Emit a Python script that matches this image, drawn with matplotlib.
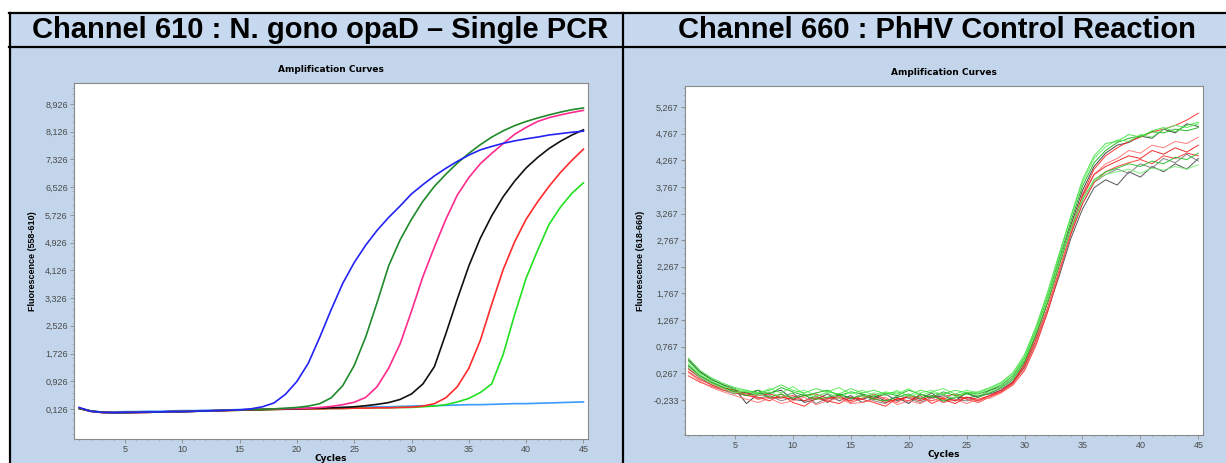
import numpy as np
import matplotlib
matplotlib.use("Agg")
import matplotlib.pyplot as plt
from matplotlib.patches import Rectangle
from matplotlib.lines import Line2D
from matplotlib.ticker import FixedLocator, MultipleLocator

plt.rcParams['font.family'] = ['Liberation Sans', 'DejaVu Sans']

W, H = 1226, 463
cycles = list(range(1, 46))

# ---- Channel 610 curves ----
ch610 = {
    'blue': [0.17, 0.06, 0.03, 0.02, 0.03, 0.03, 0.04, 0.04, 0.05, 0.05, 0.06, 0.07, 0.08, 0.09, 0.10,
             0.13, 0.19, 0.30, 0.55, 0.92, 1.45, 2.20, 3.00, 3.75, 4.35, 4.85, 5.28, 5.65, 5.98, 6.33,
             6.60, 6.85, 7.07, 7.27, 7.45, 7.60, 7.70, 7.79, 7.86, 7.92, 7.97, 8.03, 8.07, 8.11, 8.14],
    'darkgreen': [0.15, 0.07, 0.03, 0.02, 0.02, 0.03, 0.04, 0.04, 0.05, 0.05, 0.06, 0.07, 0.08, 0.09, 0.10,
                  0.11, 0.12, 0.13, 0.15, 0.17, 0.21, 0.28, 0.45, 0.80, 1.38, 2.20, 3.20, 4.25, 5.00, 5.60,
                  6.12, 6.55, 6.90, 7.22, 7.50, 7.75, 7.97, 8.15, 8.30, 8.42, 8.52, 8.61, 8.69, 8.76, 8.81],
    'pink': [0.15, 0.07, 0.03, 0.02, 0.02, 0.03, 0.03, 0.04, 0.05, 0.05, 0.06, 0.07, 0.08, 0.09, 0.10,
             0.11, 0.12, 0.12, 0.13, 0.14, 0.15, 0.17, 0.20, 0.25, 0.32, 0.46, 0.77, 1.30, 2.00, 2.95,
             3.95, 4.80, 5.60, 6.30, 6.80, 7.20, 7.50, 7.78, 8.05, 8.25, 8.42, 8.53, 8.61, 8.68, 8.74],
    'black': [0.14, 0.06, 0.03, 0.02, 0.02, 0.03, 0.03, 0.04, 0.05, 0.05, 0.06, 0.07, 0.08, 0.09, 0.10,
              0.10, 0.11, 0.12, 0.12, 0.13, 0.14, 0.15, 0.16, 0.17, 0.19, 0.22, 0.26, 0.31, 0.40, 0.56,
              0.85, 1.35, 2.30, 3.30, 4.25, 5.05, 5.70, 6.25, 6.70, 7.08, 7.38, 7.64, 7.85, 8.03, 8.18],
    'red': [0.14, 0.06, 0.02, 0.02, 0.02, 0.02, 0.03, 0.04, 0.04, 0.05, 0.06, 0.07, 0.07, 0.08, 0.09,
            0.10, 0.11, 0.11, 0.12, 0.12, 0.13, 0.13, 0.14, 0.14, 0.15, 0.15, 0.16, 0.16, 0.17, 0.18,
            0.21, 0.28, 0.45, 0.77, 1.30, 2.10, 3.15, 4.15, 4.95, 5.60, 6.10, 6.55, 6.95, 7.30, 7.62],
    'lime': [0.15, 0.07, 0.03, 0.02, 0.02, 0.03, 0.03, 0.04, 0.04, 0.05, 0.06, 0.06, 0.07, 0.08, 0.09,
             0.10, 0.10, 0.11, 0.12, 0.12, 0.13, 0.13, 0.14, 0.14, 0.15, 0.15, 0.16, 0.16, 0.17, 0.17,
             0.19, 0.21, 0.25, 0.33, 0.43, 0.60, 0.85, 1.70, 2.85, 3.90, 4.70, 5.45, 5.95, 6.35, 6.65],
    'skyblue': [0.14, 0.07, 0.04, 0.04, 0.05, 0.05, 0.06, 0.06, 0.07, 0.08, 0.08, 0.09, 0.09, 0.10, 0.11,
                0.11, 0.12, 0.13, 0.13, 0.14, 0.15, 0.15, 0.16, 0.17, 0.17, 0.18, 0.19, 0.19, 0.20, 0.21,
                0.22, 0.22, 0.23, 0.24, 0.25, 0.25, 0.26, 0.27, 0.28, 0.28, 0.29, 0.30, 0.31, 0.32, 0.33],
}
ch610_colors = {'blue': '#2323f5', 'darkgreen': '#1f8a2a', 'pink': '#ff2a8e', 'black': '#111111',
                'red': '#ff2b2b', 'lime': '#22e022', 'skyblue': '#3a9cff'}
ch610_order = ['skyblue', 'lime', 'red', 'black', 'pink', 'darkgreen', 'blue']
ch610_yticks = [0.126, 0.926, 1.726, 2.526, 3.326, 4.126, 4.926, 5.726, 6.526, 7.326, 8.126, 8.926]

# ---- Channel 660 curves (PhHV control) ----
ch660 = [
    ('#333333', [0.52, 0.30, 0.15, 0.05, -0.02, -0.30, -0.12, -0.10, -0.05, -0.22, -0.25, -0.15, -0.28, -0.12, -0.20,
                 -0.22, -0.15, -0.25, -0.18, -0.30, -0.12, -0.20, -0.15, -0.25, -0.10, -0.18, -0.05, 0.02, 0.18, 0.50,
                 1.00, 1.62, 2.35, 3.05, 3.70, 4.15, 4.40, 4.55, 4.60, 4.72, 4.68, 4.85, 4.78, 4.95, 4.90]),
    ('#444444', [0.40, 0.22, 0.10, 0.00, -0.08, -0.15, -0.05, -0.20, -0.18, -0.10, -0.28, -0.22, -0.12, -0.25, -0.15,
                 -0.28, -0.20, -0.12, -0.25, -0.15, -0.22, -0.10, -0.28, -0.18, -0.20, -0.15, -0.12, -0.05, 0.10, 0.38,
                 0.85, 1.45, 2.10, 2.80, 3.35, 3.75, 3.90, 3.80, 4.05, 3.95, 4.15, 4.05, 4.20, 4.10, 4.30]),
    ('#777777', [0.35, 0.18, 0.05, -0.05, -0.12, -0.08, -0.20, -0.15, -0.25, -0.18, -0.12, -0.30, -0.20, -0.15, -0.22,
                 -0.12, -0.25, -0.30, -0.15, -0.20, -0.28, -0.18, -0.12, -0.22, -0.25, -0.18, -0.10, -0.02, 0.12, 0.42,
                 0.92, 1.50, 2.20, 2.88, 3.45, 3.85, 4.00, 4.10, 4.02, 4.20, 4.12, 4.30, 4.22, 4.38, 4.25]),
    ('#ff2020', [0.30, 0.15, 0.05, -0.02, -0.10, -0.15, -0.18, -0.25, -0.12, -0.28, -0.35, -0.20, -0.25, -0.30, -0.18,
                 -0.22, -0.28, -0.35, -0.20, -0.25, -0.15, -0.30, -0.20, -0.25, -0.18, -0.22, -0.15, -0.08, 0.05, 0.32,
                 0.80, 1.42, 2.15, 2.90, 3.62, 4.10, 4.35, 4.50, 4.62, 4.70, 4.80, 4.85, 4.92, 5.02, 5.15]),
    ('#ff3030', [0.22, 0.10, 0.02, -0.05, -0.08, -0.12, -0.22, -0.18, -0.20, -0.15, -0.25, -0.18, -0.22, -0.15, -0.28,
                 -0.20, -0.12, -0.22, -0.28, -0.15, -0.20, -0.25, -0.18, -0.12, -0.22, -0.28, -0.18, -0.08, 0.08, 0.40,
                 0.90, 1.50, 2.20, 2.88, 3.45, 3.85, 4.05, 4.15, 4.22, 4.28, 4.20, 4.35, 4.30, 4.40, 4.35]),
    ('#ff7070', [0.28, 0.12, 0.00, -0.08, -0.15, -0.22, -0.28, -0.20, -0.30, -0.25, -0.18, -0.32, -0.25, -0.20, -0.30,
                 -0.28, -0.22, -0.18, -0.32, -0.25, -0.30, -0.20, -0.28, -0.22, -0.30, -0.22, -0.20, -0.10, 0.05, 0.35,
                 0.85, 1.48, 2.18, 2.92, 3.55, 4.00, 4.20, 4.30, 4.45, 4.40, 4.55, 4.50, 4.62, 4.58, 4.70]),
    ('#e81818', [0.35, 0.20, 0.08, 0.00, -0.05, -0.10, -0.15, -0.12, -0.18, -0.22, -0.15, -0.12, -0.20, -0.18, -0.25,
                 -0.15, -0.20, -0.28, -0.22, -0.18, -0.25, -0.15, -0.22, -0.30, -0.18, -0.25, -0.15, -0.05, 0.10, 0.45,
                 0.98, 1.60, 2.30, 3.00, 3.60, 4.00, 4.15, 4.25, 4.35, 4.30, 4.45, 4.38, 4.50, 4.42, 4.55]),
    ('#10b010', [0.50, 0.28, 0.15, 0.05, -0.05, -0.10, -0.05, -0.12, 0.00, -0.08, -0.15, -0.10, -0.05, -0.15, -0.08,
                 -0.12, -0.18, -0.10, -0.15, -0.05, -0.12, -0.18, -0.08, -0.15, -0.10, -0.12, -0.05, 0.05, 0.22, 0.55,
                 1.08, 1.70, 2.42, 3.12, 3.78, 4.22, 4.45, 4.60, 4.68, 4.72, 4.80, 4.78, 4.85, 4.82, 4.88]),
    ('#55ee55', [0.45, 0.25, 0.12, 0.02, -0.02, -0.08, -0.12, -0.02, -0.10, 0.02, -0.12, -0.18, -0.08, 0.00, -0.12,
                 -0.05, -0.15, -0.08, -0.12, -0.02, -0.15, -0.08, -0.02, -0.12, -0.05, -0.10, -0.02, 0.08, 0.25, 0.58,
                 1.12, 1.75, 2.48, 3.20, 3.85, 4.30, 4.52, 4.65, 4.62, 4.75, 4.70, 4.85, 4.92, 4.88, 4.95]),
    ('#20c020', [0.42, 0.22, 0.10, 0.00, -0.08, -0.15, -0.10, -0.18, -0.12, -0.20, -0.15, -0.22, -0.18, -0.12, -0.20,
                 -0.15, -0.22, -0.25, -0.18, -0.12, -0.20, -0.15, -0.25, -0.18, -0.12, -0.18, -0.10, 0.00, 0.15, 0.48,
                 1.00, 1.60, 2.30, 2.98, 3.52, 3.90, 4.05, 4.12, 4.20, 4.15, 4.25, 4.20, 4.32, 4.28, 4.40]),
    ('#70f070', [0.38, 0.20, 0.08, -0.02, -0.10, -0.05, -0.15, -0.08, -0.18, -0.10, -0.05, -0.15, -0.10, -0.20, -0.08,
                 -0.18, -0.10, -0.15, -0.05, -0.18, -0.10, -0.05, -0.15, -0.20, -0.08, -0.15, -0.08, 0.02, 0.18, 0.52,
                 1.05, 1.65, 2.35, 3.00, 3.55, 3.88, 4.00, 4.05, 4.10, 4.02, 4.12, 4.08, 4.15, 4.10, 4.18]),
    ('#40e040', [0.55, 0.32, 0.18, 0.08, 0.00, -0.05, -0.10, -0.05, 0.05, -0.05, -0.10, -0.02, -0.08, -0.12, -0.02,
                 -0.10, -0.05, -0.12, -0.08, -0.15, -0.05, -0.10, -0.12, -0.05, -0.10, -0.08, 0.00, 0.10, 0.28, 0.62,
                 1.15, 1.80, 2.52, 3.22, 3.90, 4.35, 4.58, 4.62, 4.75, 4.70, 4.82, 4.88, 4.80, 4.92, 4.98]),
]
ch660_yticks = [-0.233, 0.267, 0.767, 1.267, 1.767, 2.267, 2.767, 3.267, 3.767, 4.267, 4.767, 5.267]

xticks = [5, 10, 15, 20, 25, 30, 35, 40, 45]
headers = ['Channel 610 : N. gono opaD \u2013 Single PCR', 'Channel 660 : PhHV Control Reaction']


def px_rect(x0, y0, x1, y1):
    return [x0 / W, 1 - y1 / H, (x1 - x0) / W, (y1 - y0) / H]


fig = plt.figure(figsize=(W / 100, H / 100), dpi=100)
fig.patch.set_facecolor('white')

# table background + borders (behind the axes)
fig.patches.append(Rectangle((9 / W, 1 - 47 / H), 1, 34 / H, transform=fig.transFigure,
                             facecolor='#c6d9ef', edgecolor='none', zorder=-10))
fig.patches.append(Rectangle((9 / W, 0), 1, 1 - 47 / H, transform=fig.transFigure,
                             facecolor='#c2d5ea', edgecolor='none', zorder=-10))
for (xa, ya, xb, yb) in [(9, 13, W, 13), (9, 46.5, W, 46.5), (9.5, 13, 9.5, H), (623, 13, 623, H)]:
    fig.lines.append(Line2D([xa / W, xb / W], [1 - ya / H, 1 - yb / H], transform=fig.transFigure,
                            color='black', lw=1.6, zorder=-5))

fig.text(320 / W, 1 - 30 / H, headers[0], ha='center', va='center', fontsize=21, fontweight='bold')
fig.text(937 / W, 1 - 30 / H, headers[1], ha='center', va='center', fontsize=21, fontweight='bold')


def style_axes(ax, yticks, ylabel):
    ax.set_facecolor('white')
    for s in ax.spines.values():
        s.set_color('#8a8a8a')
        s.set_linewidth(0.8)
    ax.xaxis.set_major_locator(FixedLocator(xticks))
    ax.set_xticklabels([str(t) for t in xticks])
    ax.yaxis.set_major_locator(FixedLocator(yticks))
    ax.set_yticklabels([f'{t:.3f}'.replace('.', ',') for t in yticks])
    ax.xaxis.set_minor_locator(MultipleLocator(1))
    ax.tick_params(axis='both', which='major', labelsize=6.5, labelcolor='#4a4a4a', color='#8a8a8a',
                   length=3, width=0.6, pad=1.5)
    ax.tick_params(axis='both', which='minor', length=1.5, width=0.4, color='#9a9a9a')
    ax.set_ylabel(ylabel, fontsize=6.5, fontweight='bold', labelpad=6)
    ax.set_xlabel('Cycles', fontsize=6.5, fontweight='bold', family='DejaVu Sans', labelpad=0)
    ax.set_title('Amplification Curves', fontsize=6.5, fontweight='bold', family='DejaVu Sans', pad=8)


# left panel
ax1 = fig.add_axes(px_rect(74, 83, 588, 439), zorder=2)
for name in ch610_order:
    ax1.plot(cycles, ch610[name], color=ch610_colors[name], lw=1.2)
ax1.set_xlim(0.55, 45.4)
ax1.set_ylim(-0.74, 9.53)
ax1.yaxis.set_minor_locator(MultipleLocator(0.2))
style_axes(ax1, ch610_yticks, 'Fluorescence (558-610)')

# right panel
ax2 = fig.add_axes(px_rect(685, 86, 1203, 435), zorder=2)
for col, vals in ch660:
    ax2.plot(cycles, vals, color=col, lw=0.7, alpha=0.9)
ax2.set_xlim(0.7, 45.4)
ax2.set_ylim(-0.89, 5.66)
ax2.yaxis.set_minor_locator(MultipleLocator(0.125))
style_axes(ax2, ch660_yticks, 'Fluorescence (618-660)')

fig.savefig('out.png', dpi=100, facecolor='white')
